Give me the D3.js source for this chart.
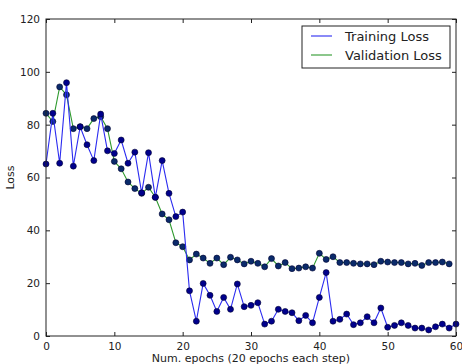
<!DOCTYPE html>
<html>
<head>
<meta charset="utf-8">
<script src="https://cdn.jsdelivr.net/npm/d3@7"></script>
<style>
  body { margin: 0; background: #fff; }
  text { font-family: "DejaVu Sans", sans-serif; fill: #222; }
</style>
</head>
<body>
<svg id="main-svg"></svg>
<script>
// values
let trainingLoss = [65.1, 84.3, 65.4, 95.9, 64.3, 79.2, 72.4, 66.4, 84.0, 70.1,
  69.1, 74.2, 65.4, 69.6, 54.2, 69.4, 52.5, 66.4, 54.0, 45.2,
  46.9, 17.1, 5.6, 19.9, 15.4, 9.3, 14.6, 10.1, 19.7, 11.1,
  11.6, 12.6, 4.5, 5.6, 10.1, 9.3, 8.8, 5.8, 7.8, 5.0,
  14.6, 24.0, 5.6, 6.3, 8.3, 4.3, 5.0, 7.3, 5.0, 10.6,
  3.3, 4.0, 5.0, 4.0, 3.0, 3.0, 2.3, 3.5, 4.5, 3.0, 4.5];
let validationLoss = [84.3, 81.2, 94.3, 91.3, 78.5, 79.2, 78.5, 82.3, 83.0, 78.5,
  66.1, 63.3, 58.3, 55.8, 54.0, 56.3, 52.5, 46.2, 44.0, 35.3,
  33.8, 28.8, 31.0, 29.5, 27.5, 29.5, 27.0, 29.8, 28.8, 27.3,
  28.3, 27.5, 26.2, 29.3, 26.5, 27.8, 25.5, 25.7, 26.2, 25.7,
  31.3, 29.0, 30.0, 27.8, 27.8, 27.5, 27.3, 27.3, 27.0, 28.3,
  28.0, 27.8, 27.8, 27.3, 27.5, 26.7, 27.8, 27.8, 28.0, 27.3];
let xTicks = [0, 10, 20, 30, 40, 50, 60];
let yTicks = [0, 20, 40, 60, 80, 100, 120];
let seriesNames = ['Training Loss', 'Validation Loss'];

let width = 462;
let height = 364;
let margin = {top: 19, right: 6, bottom: 28, left: 46};
let plotW = width - margin.left - margin.right;
let plotH = height - margin.top - margin.bottom;

let svg = d3.select('#main-svg')
  .attr('width', width)
  .attr('height', height);
let g = svg.append('g')
  .attr('transform', `translate(${margin.left} ${margin.top})`);

let x = d3.scaleLinear().domain([0, 60]).range([0, plotW]);
let y = d3.scaleLinear().domain([0, 120]).range([plotH, 0]);

// axes: ticks pointing inward, on all four sides
let tickLen = 4;
function styleAxis(sel) {
  sel.select('.domain').remove();
  sel.selectAll('line').attr('stroke', '#222');
  sel.selectAll('text').style('font-size', '10.5px').attr('fill', '#222');
}
g.append('g').attr('transform', `translate(0 ${plotH})`)
  .call(d3.axisBottom(x).tickValues(xTicks).tickSize(-tickLen).tickPadding(7))
  .call(styleAxis);
g.append('g')
  .call(d3.axisTop(x).tickValues(xTicks).tickSize(-tickLen).tickFormat(''))
  .call(styleAxis);
g.append('g')
  .call(d3.axisLeft(y).tickValues(yTicks).tickSize(-tickLen).tickPadding(6))
  .call(styleAxis);
g.append('g').attr('transform', `translate(${plotW} 0)`)
  .call(d3.axisRight(y).tickValues(yTicks).tickSize(-tickLen).tickFormat(''))
  .call(styleAxis);

let series = [
  {name: seriesNames[0], values: trainingLoss, color: '#2b2bf0', marker: '#00008c'},
  {name: seriesNames[1], values: validationLoss, color: '#2e9a2e', marker: '#0a2a6a'}
];

let line = d3.line()
  .x((d, i) => x(i))
  .y(d => y(d));

// draw validation first so training sits on top
series.slice().reverse().forEach(s => {
  g.append('path').datum(s.values)
    .attr('d', line)
    .attr('fill', 'none')
    .attr('stroke', s.color)
    .attr('stroke-width', 1.1);
  g.append('g').selectAll('circle')
    .data(s.values)
    .join('circle')
      .attr('cx', (d, i) => x(i))
      .attr('cy', d => y(d))
      .attr('r', 3)
      .attr('fill', s.marker)
      .attr('stroke', '#000030')
      .attr('stroke-width', 0.6);
});

// frame
g.append('rect')
  .attr('width', plotW)
  .attr('height', plotH)
  .attr('fill', 'none')
  .attr('stroke', '#222')
  .attr('stroke-width', 1);

// labels
svg.append('text')
  .attr('x', margin.left + plotW / 2)
  .attr('y', 362)
  .attr('text-anchor', 'middle')
  .style('font-size', '11px')
  .text('Num. epochs (20 epochs each step)');
svg.append('text')
  .attr('transform', `translate(14 ${margin.top + plotH / 2}) rotate(-90)`)
  .attr('text-anchor', 'middle')
  .style('font-size', '11px')
  .text('Loss');

// legend
let legend = svg.append('g').attr('transform', 'translate(302 26)');
legend.append('rect')
  .attr('width', 148)
  .attr('height', 42)
  .attr('fill', '#fff')
  .attr('stroke', '#222');
series.forEach((s, i) => {
  let ly = 10 + i * 19;
  legend.append('line')
    .attr('x1', 9).attr('x2', 30)
    .attr('y1', ly).attr('y2', ly)
    .attr('stroke', s.color)
    .attr('stroke-width', 1.1);
  legend.append('text')
    .attr('x', 43)
    .attr('y', ly)
    .attr('dy', '0.35em')
    .style('font-size', '13px')
    .text(s.name);
});
</script>
</body>
</html>
